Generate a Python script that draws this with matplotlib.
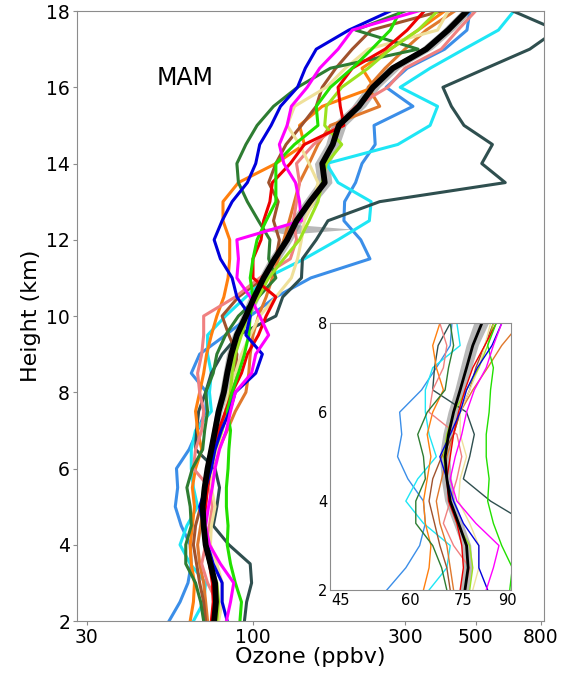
import numpy as np
import matplotlib
matplotlib.use("Agg")
import matplotlib.pyplot as plt
from matplotlib.ticker import NullLocator

# heights (km) shared by every profile
heights = [2.0, 2.5, 3.0, 3.5, 4.0, 4.5, 5.0, 5.5, 6.0, 6.5, 7.0, 7.5, 8.0,
           8.5, 9.0, 9.5, 10.0, 10.5, 11.0, 11.5, 12.0, 12.5, 13.0, 13.5,
           14.0, 14.5, 15.0, 15.5, 16.0, 16.5, 17.0, 17.5, 18.0]

# individual ozone profiles (ppbv)
blue = [83, 80, 80, 75, 72, 70, 68, 71, 74, 76, 79.5, 84.5, 88,
        102, 107, 95, 98, 89, 86, 79, 75.5, 80, 86, 96,
        102, 105, 114, 122, 138, 146, 158, 200, 270]
magenta = [82.5, 85, 87, 79, 73, 71, 72.5, 74.5, 76, 78.5, 82.5, 85, 88,
           99, 102, 112, 105, 98, 89, 90, 89, 142, 140, 136,
           125, 121, 128, 132, 148, 162, 185, 205, 330]
lime = [91, 92, 88, 85, 83, 83.5, 82.5, 82.5, 83.5, 84, 85, 83, 86,
        90, 94, 97, 98, 100, 98, 100, 103, 110, 118, 118,
        118, 135, 160, 158, 175, 205, 236, 270, 290]
yellowgreen = [77, 78, 77, 73, 71, 70, 69, 70, 72, 76, 80, 83, 85,
               86, 88, 92, 96, 104, 112, 125, 140, 150, 160, 165,
               170, 190, 168, 170, 190, 230, 270, 330, 380]
darkgreen = [70, 68.5, 66, 61.5, 61.5, 64, 63.5, 62, 64.5, 69.5, 70.5, 72, 71,
             75, 77, 82, 90, 104, 118, 112, 113, 104, 96, 90,
             89, 95, 103, 116, 138, 175, 330, 210, 300]
slategray = [94, 95.5, 99, 98, 84, 75, 77, 78.5, 76, 66, 66.5, 67.5, 71,
             74, 80, 90, 118, 124, 142, 143, 158, 172, 250, 620,
             523, 565, 460, 420, 395, 540, 740, 900, 655]
red = [74, 75, 74.5, 73, 70.5, 70, 71, 72, 73.5, 75.5, 78, 82, 86,
       92, 96, 104, 110, 118, 100, 100, 106, 108, 113, 115,
       131, 145, 193, 188, 185, 205, 260, 305, 345]
darkorange = [63.5, 65, 65.5, 64, 63.5, 64.5, 65.5, 64.5, 66, 69, 67, 66, 68,
              70, 71.5, 74, 77, 81, 83.5, 84.5, 84.5, 80.5, 80.5, 90,
              118, 145, 140, 165, 240, 220, 270, 330, 400]
chocolate = [72, 71, 70, 68, 67, 68.5, 70, 72, 74, 78, 83, 88, 95,
             97, 98, 100, 104, 110, 115, 120, 125, 130, 135, 140,
             150, 160, 175, 250, 230, 260, 300, 350, 430]
sienna = [71, 70, 68, 66.5, 65, 66, 68.5, 72, 74, 77, 79, 82, 85,
          88, 89, 84, 80, 90, 108, 118, 121, 116, 120, 112,
          118, 127, 142, 158, 165, 182, 205, 235, 390]
salmon = [75.5, 77, 72, 69, 71, 73, 74.5, 73, 65, 66, 69, 70, 68,
          67, 69, 70, 70, 88, 105, 131, 137, 134, 137, 140,
          137, 155, 185, 210, 265, 300, 390, 440, 500]
khaki = [78, 80, 80, 77, 73.5, 74, 76, 74, 74, 77, 80, 82, 84,
         88, 92, 98, 105, 118, 132, 138, 142, 145, 155, 160,
         150, 140, 128, 135, 170, 195, 230, 380, 410]
cyan = [65, 70, 71, 63.5, 59, 62, 67, 65, 64, 64, 66, 74, 73,
        74, 72, 72, 82, 95, 110, 145, 185, 232, 235, 185,
        170, 285, 360, 380, 290, 360, 460, 590, 660]
dodgerblue = [54.5, 59, 62.5, 64, 63.5, 59.5, 57, 58, 57.5, 63, 67, 71, 71.5,
              64, 68, 82, 98, 118, 152, 233, 218, 193, 194, 210,
              220, 242, 240, 318, 262, 305, 400, 470, 480]

# ensemble mean and its spread
mean_o3 = [75.5, 76.5, 76, 73.5, 71, 70, 69.5, 70.5, 72, 74, 76, 78, 81,
           83, 85.5, 89, 95, 101, 108, 117, 128, 137, 151, 168,
           165, 178, 186, 215, 238, 275, 350, 410, 470]
mean_err = [1.5, 1.5, 1.5, 1.5, 1.5, 1.5, 1.5, 1.5, 1.5, 1.5, 1.8, 2, 2.5,
            2.5, 3, 3, 3.5, 4, 4, 5, 5, 6, 7, 9,
            9, 9, 10, 11, 12, 14, 16, 18, 20]
spike_h = [12.15, 12.28, 12.4]
spike_lo = [126, 105, 132]
spike_hi = [130, 205, 136]

profiles = [
    (dodgerblue, '#3b8ee8'), (cyan, '#1ee6f5'), (slategray, '#2f4f4f'),
    (darkorange, '#ff7f0e'), (chocolate, '#e0782c'), (sienna, '#a0522d'),
    (salmon, '#f08080'), (khaki, '#efe09a'), (darkgreen, '#2e7d32'),
    (yellowgreen, '#9be21e'), (red, '#ee0000'), (lime, '#22e000'),
    (blue, '#0000dd'), (magenta, '#ff00ff'),
]


def draw(ax, lw, mean_lw):
    for vals, col in profiles:
        ax.plot(vals, heights, color=col, lw=lw, solid_joinstyle='round')
    lo = np.array(mean_o3) - np.array(mean_err)
    hi = np.array(mean_o3) + np.array(mean_err)
    ax.fill_betweenx(heights, lo, hi, color='gray', alpha=0.55, lw=0)
    ax.fill_betweenx(spike_h, spike_lo, spike_hi, color='gray', alpha=0.55, lw=0)
    ax.plot(mean_o3, heights, color='black', lw=mean_lw)


def style(ax, size):
    for s in ax.spines.values():
        s.set_color('#8c8c8c')
    ax.xaxis.set_minor_locator(NullLocator())
    ax.tick_params(colors='#8c8c8c', labelcolor='black', labelsize=size)


fig = plt.figure(figsize=(5.66, 6.77), dpi=100)
ax = fig.add_axes([0.136, 0.0827, 0.825, 0.901])
draw(ax, 2.2, 4.2)
ax.set_xscale('log')
ax.set_xlim(28, 820)
ax.set_ylim(2, 18)
ax.set_xticks([30, 100, 300, 500, 800])
ax.set_xticklabels(['30', '100', '300', '500', '800'])
ax.set_yticks(range(2, 19, 2))
style(ax, 13.5)
ax.tick_params(length=3, pad=2)
ax.set_xlabel('Ozone (ppbv)', fontsize=16, labelpad=0)
ax.set_ylabel('Height (km)', fontsize=16, labelpad=4)
ax.text(61, 16.25, 'MAM', fontsize=17, ha='center', va='center')

axin = fig.add_axes([0.583, 0.1285, 0.319, 0.394])
draw(axin, 1.0, 2.0)
axin.set_xscale('log')
axin.set_xlim(43, 91.3)
axin.set_ylim(2, 8)
axin.set_xticks([45, 60, 75, 90])
axin.set_xticklabels(['45', '60', '75', '90'])
axin.set_yticks([2, 4, 6, 8])
style(axin, 10.5)
axin.tick_params(length=0, pad=2)

fig.savefig('out.png', dpi=100)
